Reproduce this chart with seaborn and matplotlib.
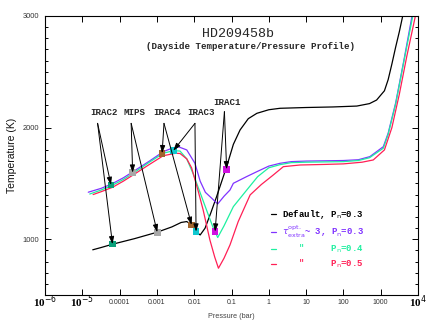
import numpy as np
import pandas as pd
import matplotlib
matplotlib.use("Agg")
import matplotlib.pyplot as plt
import seaborn as sns

# ---------------- data ----------------
# log10 pressure (bar) and temperature (K) for each profile
logp_default = [-4.72, -4.5, -4.19, -3.6, -3.0, -2.6, -2.35, -2.2, -2.07, -1.93, -1.84, -1.71,
                -1.55, -1.4, -1.13, -0.95, -0.77, -0.55, -0.32, 0.0, 0.3, 1.0, 1.72, 2.36,
                2.7, 2.89, 3.1, 3.2, 3.3, 3.4, 3.5, 3.59]
temp_default = [905, 925, 955, 1005, 1062, 1110, 1150, 1158, 1130, 1062, 1038, 1098,
                1240, 1381, 1650, 1850, 1979, 2080, 2128, 2160, 2173, 2180, 2185, 2193,
                2215, 2247, 2330, 2430, 2570, 2720, 2860, 3000]

logp_tau = [-4.84, -4.5, -4.21, -3.9, -3.64, -3.2, -2.83, -2.6, -2.43, -2.2, -1.98, -1.84,
            -1.7, -1.53, -1.37, -1.2, -1.04, -0.95, -0.6, -0.32, 0.0, 0.3, 0.6, 1.0, 2.0,
            2.4, 2.71, 3.07, 3.2, 3.4, 3.62, 3.84]
temp_tau = [1421, 1455, 1495, 1550, 1605, 1700, 1784, 1815, 1829, 1800, 1680, 1520,
            1420, 1367, 1316, 1385, 1441, 1501, 1560, 1605, 1655, 1680, 1695, 1700, 1705,
            1712, 1740, 1829, 1950, 2220, 2600, 3000]

logp_p04 = [-4.8, -4.5, -4.2, -3.9, -3.64, -3.2, -2.83, -2.56, -2.38, -2.2, -2.02, -1.8,
            -1.67, -1.5, -1.37, -1.2, -0.95, -0.59, -0.3, 0.0, 0.3, 0.6, 1.0, 2.0, 2.4,
            2.7, 3.07, 3.2, 3.4, 3.62, 3.86]
temp_p04 = [1405, 1440, 1482, 1535, 1590, 1690, 1770, 1793, 1790, 1720, 1580, 1380,
            1262, 1110, 1015, 1120, 1292, 1441, 1560, 1640, 1668, 1686, 1690, 1695, 1705,
            1730, 1815, 1940, 2210, 2590, 3000]

logp_p05 = [-4.71, -4.5, -4.19, -3.9, -3.64, -3.2, -2.83, -2.5, -2.38, -2.2, -2.07, -1.9,
            -1.76, -1.58, -1.45, -1.35, -1.2, -1.04, -0.82, -0.5, -0.2, 0.1, 0.39, 0.84,
            1.5, 2.0, 2.5, 2.8, 3.1, 3.3, 3.5, 3.7, 3.93]
temp_p05 = [1400, 1425, 1465, 1520, 1575, 1670, 1748, 1770, 1768, 1720, 1640, 1440,
            1262, 994, 840, 740, 830, 949, 1158, 1397, 1490, 1570, 1650, 1665,
            1670, 1675, 1690, 1710, 1800, 2000, 2300, 2640, 3000]

model_names = ["Default", "tau3", "p04", "p05"]
model_colors = ["#000000", "#8033ff", "#1ef0a0", "#ff1f55"]
legend_labels = [r"Default, P$_{\rm n}$=0.3",
                 r"$\tau^{\rm opt.}_{\rm extra}$~ 3, P$_{\rm n}$=0.3",
                 r'   "     P$_{\rm n}$=0.4',
                 r'   "     P$_{\rm n}$=0.5']

# band photosphere markers
bands = ["IRAC2", "MIPS", "IRAC4", "IRAC3", "IRAC1"]
band_colors = ["#0aa07a", "#a8a8a8", "#a0642c", "#10c8d0", "#d010e0"]
logp_upper = [-4.23, -3.65, -2.86, -2.56, -1.13]
temp_upper = [1486, 1596, 1770, 1793, 1626]
logp_lower = [-4.19, -2.99, -2.07, -1.95, -1.44]
temp_lower = [955, 1062, 1128, 1068, 1068]

# label positions and arrow origins
label_logp = [-4.42, -3.59, -2.74, -1.83, -1.13]
label_temp = [2131, 2131, 2131, 2131, 2223]
arrow_logp = [-4.59, -3.69, -2.81, -1.98, -1.19]
arrow_temp = [2038, 2038, 2038, 2038, 2143]

xtick_labels = [r"10$^{-6}$", r"10$^{-5}$", "0.0001", "0.001", "0.01", "0.1",
                "1", "10", "100", "1000", r"10$^{4}$"]

# ---------------- build tables ----------------
frames = []
for name, lp, t in zip(model_names, [logp_default, logp_tau, logp_p04, logp_p05],
                       [temp_default, temp_tau, temp_p04, temp_p05]):
    frames.append(pd.DataFrame({"model": name, "pressure": 10.0 ** np.array(lp), "temperature": t}))
curves = pd.DataFrame(pd.concat(frames, ignore_index=True))

marks = pd.DataFrame({
    "band": bands + bands,
    "pressure": 10.0 ** np.array(logp_upper + logp_lower),
    "temperature": temp_upper + temp_lower,
})

# ---------------- plot ----------------
sns.set_style("ticks")
plt.rcParams["font.family"] = ["Liberation Sans", "DejaVu Sans"]

fig = plt.figure(figsize=(4.45, 3.32), dpi=100)
ax = fig.add_axes([45 / 445, 1 - 295 / 332, 373 / 445, 279 / 332])

sns.lineplot(data=curves, x="pressure", y="temperature", hue="model",
             hue_order=model_names, palette=model_colors, estimator=None, sort=False,
             lw=0.9, ax=ax, legend=True)
sns.scatterplot(data=marks, x="pressure", y="temperature", hue="band", hue_order=bands,
                palette=band_colors, marker="s", s=22, linewidth=0, ax=ax, legend=False,
                zorder=4)

ax.set_xscale("log")
ax.set_xlim(1e-6, 1e4)
ax.set_ylim(500, 3000)

mono = ["Liberation Mono", "DejaVu Sans"]

# arrows
for i in range(len(bands)):
    for lp, t in [(logp_upper[i], temp_upper[i]), (logp_lower[i], temp_lower[i])]:
        ax.annotate("", xy=(10 ** lp, t), xytext=(10 ** arrow_logp[i], arrow_temp[i]),
                    arrowprops=dict(arrowstyle="-|>,head_length=0.45,head_width=0.15",
                                    color="black", lw=0.7, shrinkA=0, shrinkB=0),
                    zorder=5)
    ax.text(10 ** label_logp[i], label_temp[i], bands[i], ha="center", va="center",
            fontsize=6.6, fontweight="bold", family=mono)

# title
ax.text(10 ** -0.82, 2835, "HD209458b", ha="center", va="center", fontsize=9.6,
        family=mono)
ax.text(10 ** -0.5, 2730, "(Dayside Temperature/Pressure Profile)", ha="center",
        va="center", fontsize=6.6, fontweight="bold", family=mono)

# legend
handles, _ = ax.get_legend_handles_labels()
leg = ax.legend(handles[:4], legend_labels, loc="upper left",
                bbox_to_anchor=(0.607, 0.312), frameon=False, handlelength=0.5,
                handletextpad=0.7, labelspacing=0.3, borderpad=0, borderaxespad=0,
                prop={"family": mono, "weight": "bold", "size": 6.5},
                labelcolor="linecolor")

# axes styling
ax.set_xticks(10.0 ** np.arange(-6, 5))
ax.set_xticklabels(xtick_labels)
ax.xaxis.set_minor_locator(matplotlib.ticker.LogLocator(base=10, subs=np.arange(2, 10)))
ax.xaxis.set_minor_formatter(matplotlib.ticker.NullFormatter())
ax.set_yticks([1000, 2000, 3000])
ax.yaxis.set_minor_locator(matplotlib.ticker.MultipleLocator(100))

ax.tick_params(which="both", direction="in", top=True, right=True, width=0.7, colors="black")
ax.tick_params(which="major", length=4)
ax.tick_params(which="minor", length=2)
ax.tick_params(axis="x", labelsize=5, labelcolor="#333333", pad=3)
ax.tick_params(axis="y", labelsize=5.4, labelcolor="#333333", pad=4)
for lab in ax.get_xticklabels():
    if "$" in lab.get_text():
        lab.set_fontsize(8)
        lab.set_color("black")
        lab.set_family(["Liberation Serif", "DejaVu Serif"])
        lab.set_fontweight("bold")
        lab.set_y(0.02)

for sp in ax.spines.values():
    sp.set_linewidth(0.8)
    sp.set_color("black")

ax.set_xlabel("Pressure (bar)", fontsize=5.2, color="#444444", labelpad=2)
ax.set_ylabel("Temperature (K)", fontsize=7.5, color="#111111", labelpad=4)

fig.savefig("out.png", dpi=100)
